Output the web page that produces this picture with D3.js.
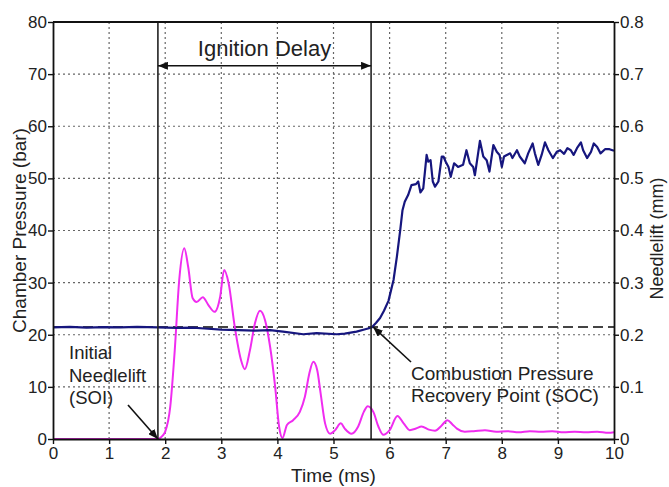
<!DOCTYPE html>
<html>
<head>
<meta charset="utf-8">
<script src="https://cdn.jsdelivr.net/npm/d3@7"></script>
<style>
  body { margin: 0; background: #fff; }
  svg text { font-family: "Liberation Sans", Arial, sans-serif; fill: #222; }
</style>
</head>
<body>
<div id="chart"></div>
<script>
//////////////////////////////////////////////////////////////////
// Data
//////////////////////////////////////////////////////////////////
const timeTicks = [0, 1, 2, 3, 4, 5, 6, 7, 8, 9, 10];
const pressureTicks = [0, 10, 20, 30, 40, 50, 60, 70, 80];
const liftTicks = [0, 0.1, 0.2, 0.3, 0.4, 0.5, 0.6, 0.7, 0.8];

// Chamber pressure (bar) vs time (ms)
const pressureTime = [0, 0.3, 0.6, 0.9, 1.2, 1.5, 1.87, 2.2, 2.5, 2.7, 3.0, 3.3, 3.6, 3.87, 4.1, 4.46, 4.7, 5.06, 5.2, 5.41, 5.55, 5.68,
  5.76, 5.83, 5.9, 5.98, 6.07, 6.13, 6.19, 6.23, 6.27, 6.33, 6.39, 6.47, 6.51, 6.55, 6.6, 6.66, 6.69, 6.73, 6.77, 6.81, 6.87,
  6.93, 6.96, 7.0, 7.05, 7.09, 7.15, 7.22, 7.31, 7.37, 7.43, 7.49, 7.52, 7.56, 7.61, 7.67, 7.73, 7.78, 7.85, 7.91, 7.96,
  8.0, 8.04, 8.09, 8.15, 8.19, 8.27, 8.32, 8.41, 8.47, 8.55, 8.59, 8.65, 8.71, 8.77, 8.83, 8.91, 8.98, 9.04, 9.11, 9.17,
  9.23, 9.28, 9.34, 9.41, 9.45, 9.52, 9.59, 9.64, 9.7, 9.76, 9.84, 9.92, 10];
const pressureBar = [21.4, 21.5, 21.35, 21.45, 21.4, 21.5, 21.4, 21.3, 21.35, 21.2, 21.0, 20.9, 20.8, 20.9, 20.6, 20.1, 20.3, 20.1, 20.2, 20.6, 21.0, 21.4,
  22.3, 23.2, 24.6, 26.5, 30.5, 35.0, 40.1, 43.9, 45.5, 46.8, 48.7, 48.9, 49.4, 47.3, 48.1, 54.5, 53.2, 53.5, 49.4, 48.4, 49.4,
  54.2, 54.2, 53.2, 52.2, 50.3, 52.9, 52.2, 52.6, 55.4, 52.9, 52.2, 50.6, 53.5, 57.2, 54.2, 53.5, 51.3, 56.4, 55.1, 54.5,
  52.2, 54.2, 54.5, 54.8, 53.9, 55.4, 54.2, 52.9, 54.8, 56.7, 54.8, 52.6, 54.5, 56.9, 55.4, 53.9, 55.1, 55.4, 54.7, 55.8,
  55.4, 54.5, 55.8, 56.9, 55.4, 53.9, 55.1, 56.7, 56.0, 54.8, 55.6, 55.6, 55.3];

// Needle lift (mm) vs time (ms)
const liftTime = [0, 1.0, 1.87, 1.95, 2.0, 2.09, 2.17, 2.25, 2.34, 2.41, 2.49, 2.56, 2.67, 2.77, 2.88, 2.98, 3.05, 3.13, 3.24,
  3.35, 3.42, 3.51, 3.6, 3.69, 3.78, 3.87, 3.96, 4.03, 4.09, 4.17, 4.28, 4.4, 4.49, 4.57, 4.64, 4.71, 4.77, 4.85, 4.94,
  5.03, 5.13, 5.2, 5.32, 5.44, 5.54, 5.61, 5.71, 5.8, 5.89, 6.0, 6.14, 6.25, 6.36, 6.47, 6.57, 6.7, 6.81, 6.92, 7.03,
  7.12, 7.2, 7.34, 7.5, 7.7, 7.9, 8.1, 8.3, 8.5, 8.7, 8.9, 9.1, 9.3, 9.5, 9.7, 9.9, 10];
const liftMm = [0, 0, 0, 0.006, 0.014, 0.062, 0.17, 0.305, 0.366, 0.33, 0.27, 0.263, 0.272, 0.257, 0.244, 0.273, 0.324, 0.299, 0.215,
  0.152, 0.134, 0.17, 0.222, 0.246, 0.228, 0.177, 0.1, 0.024, 0.002, 0.027, 0.036, 0.052, 0.081, 0.126, 0.148, 0.132, 0.088, 0.03, 0.01,
  0.017, 0.03, 0.02, 0.01, 0.024, 0.052, 0.063, 0.052, 0.024, 0.008, 0.017, 0.044, 0.03, 0.017, 0.02, 0.024, 0.018, 0.016, 0.025, 0.036,
  0.028, 0.02, 0.014, 0.015, 0.017, 0.014, 0.015, 0.013, 0.015, 0.014, 0.015, 0.013, 0.014, 0.013, 0.014, 0.012, 0.013];

const soiTime = 1.87;          // Initial needlelift
const socTime = 5.67;          // Combustion pressure recovery point
const initialPressure = 21.5;  // dashed reference level (bar)
const delayArrowLevel = 71.6;  // level of the Ignition Delay arrow (bar)

//////////////////////////////////////////////////////////////////
// Chart
//////////////////////////////////////////////////////////////////
const W = 669, H = 487;
const margin = { top: 22, right: 55, bottom: 48, left: 53 };
const w = W - margin.left - margin.right;
const h = H - margin.top - margin.bottom;

const svg = d3.select("#chart").append("svg")
  .attr("width", W).attr("height", H);

const defs = svg.append("defs");
defs.append("marker")
  .attr("id", "arrow")
  .attr("viewBox", "0 0 10 8")
  .attr("refX", 10).attr("refY", 4)
  .attr("markerWidth", 10).attr("markerHeight", 8)
  .attr("markerUnits", "userSpaceOnUse")
  .attr("orient", "auto-start-reverse")
  .append("path").attr("d", "M0,0 L10,4 L0,8 Z").attr("fill", "#111");

const g = svg.append("g").attr("transform", `translate(${margin.left},${margin.top})`);

const x = d3.scaleLinear().domain([0, 10]).range([0, w]);
const y = d3.scaleLinear().domain([0, 80]).range([h, 0]);
const y2 = d3.scaleLinear().domain([0, 0.8]).range([h, 0]);

// dotted grid
g.append("g")
  .selectAll("line")
  .data(timeTicks.slice(1, -1))
  .join("line")
  .attr("x1", d => x(d)).attr("x2", d => x(d))
  .attr("y1", 0).attr("y2", h)
  .attr("stroke", "#666").attr("stroke-width", 1.2).attr("stroke-dasharray", "2,3");
g.append("g")
  .selectAll("line")
  .data(pressureTicks.slice(1, -1))
  .join("line")
  .attr("y1", d => y(d)).attr("y2", d => y(d))
  .attr("x1", 0).attr("x2", w)
  .attr("stroke", "#666").attr("stroke-width", 1.2).attr("stroke-dasharray", "2,3");

// dashed initial pressure level
g.append("line")
  .attr("x1", 0).attr("x2", w)
  .attr("y1", y(initialPressure)).attr("y2", y(initialPressure))
  .attr("stroke", "#444").attr("stroke-width", 2).attr("stroke-dasharray", "10,5");

// needle lift
const liftData = liftTime.map((t, i) => ({ t, v: liftMm[i] }));
g.append("path")
  .datum(liftData)
  .attr("fill", "none")
  .attr("stroke", "#f02cf0")
  .attr("stroke-width", 2)
  .attr("d", d3.line().x(d => x(d.t)).y(d => y2(d.v)).curve(d3.curveMonotoneX));

// chamber pressure
const pressData = pressureTime.map((t, i) => ({ t, v: pressureBar[i] }));
g.append("path")
  .datum(pressData)
  .attr("fill", "none")
  .attr("stroke", "#16167e")
  .attr("stroke-width", 2.2)
  .attr("stroke-linejoin", "round")
  .attr("d", d3.line().x(d => x(d.t)).y(d => y(d.v)));

// SOI / SOC vertical lines
g.selectAll(".marker-line")
  .data([soiTime, socTime])
  .join("line")
  .attr("class", "marker-line")
  .attr("x1", d => x(d)).attr("x2", d => x(d))
  .attr("y1", 0).attr("y2", h)
  .attr("stroke", "#222").attr("stroke-width", 1.6);

// Ignition delay arrow
g.append("line")
  .attr("x1", x(soiTime)).attr("x2", x(socTime))
  .attr("y1", y(delayArrowLevel)).attr("y2", y(delayArrowLevel))
  .attr("stroke", "#111").attr("stroke-width", 1.6)
  .attr("marker-start", "url(#arrow)").attr("marker-end", "url(#arrow)");
g.append("text")
  .attr("x", (x(soiTime) + x(socTime)) / 2)
  .attr("y", y(delayArrowLevel) - 10)
  .attr("text-anchor", "middle")
  .style("font-size", "22px")
  .text("Ignition Delay");

// SOI annotation
const soiLabel = g.append("text").style("font-size", "18.5px");
["Initial", "Needlelift", "(SOI)"].forEach((s, i) => {
  soiLabel.append("tspan").attr("x", 16).attr("y", 359 + i * 22.5 - margin.top).text(s);
});
g.append("line")
  .attr("x1", 75).attr("y1", 405 - margin.top)
  .attr("x2", x(soiTime)).attr("y2", y(0))
  .attr("stroke", "#111").attr("stroke-width", 1.6)
  .attr("marker-end", "url(#arrow)");

// SOC annotation
const socLabel = g.append("text").style("font-size", "19px");
["Combustion Pressure", "Recovery Point (SOC)"].forEach((s, i) => {
  socLabel.append("tspan").attr("x", 358).attr("y", 380 + i * 22 - margin.top).text(s);
});
g.append("line")
  .attr("x1", 358).attr("y1", 362 - margin.top)
  .attr("x2", x(socTime) + 2).attr("y2", y(initialPressure))
  .attr("stroke", "#111").attr("stroke-width", 1.6)
  .attr("marker-end", "url(#arrow)");

// axes
const styleAxis = sel => {
  sel.select(".domain").attr("stroke", "#111").attr("stroke-width", 1.8);
  sel.selectAll(".tick line").attr("stroke", "#111").attr("stroke-width", 1.4);
  sel.selectAll(".tick text").style("font-size", "17px")
    .style("font-family", "'Liberation Sans', Arial, sans-serif").attr("fill", "#222");
};

g.append("g")
  .attr("transform", `translate(0,${h})`)
  .call(d3.axisBottom(x).tickValues(timeTicks).tickSize(5).tickSizeOuter(0).tickPadding(3))
  .call(styleAxis);

g.append("g")
  .call(d3.axisLeft(y).tickValues(pressureTicks).tickSize(5).tickSizeOuter(0).tickPadding(1))
  .call(styleAxis);

g.append("g")
  .attr("transform", `translate(${w},0)`)
  .call(d3.axisRight(y2).tickValues(liftTicks).tickSize(5).tickSizeOuter(0).tickPadding(1)
    .tickFormat(d => d === 0 ? "0" : d.toFixed(1)))
  .call(styleAxis);

// top border
g.append("line")
  .attr("x1", 0).attr("x2", w).attr("y1", 0).attr("y2", 0)
  .attr("stroke", "#111").attr("stroke-width", 2.2);

// axis titles
svg.append("text")
  .attr("transform", `translate(26,${margin.top + h / 2}) rotate(-90)`)
  .attr("text-anchor", "middle")
  .style("font-size", "19px")
  .text("Chamber Pressure (bar)");

svg.append("text")
  .attr("transform", `translate(663,${margin.top + h / 2 + 8}) rotate(-90)`)
  .attr("text-anchor", "middle")
  .style("font-size", "18px")
  .text("Needlelift (mm)");

svg.append("text")
  .attr("x", margin.left + w / 2)
  .attr("y", 482)
  .attr("text-anchor", "middle")
  .style("font-size", "19px")
  .text("Time (ms)");
</script>
</body>
</html>
